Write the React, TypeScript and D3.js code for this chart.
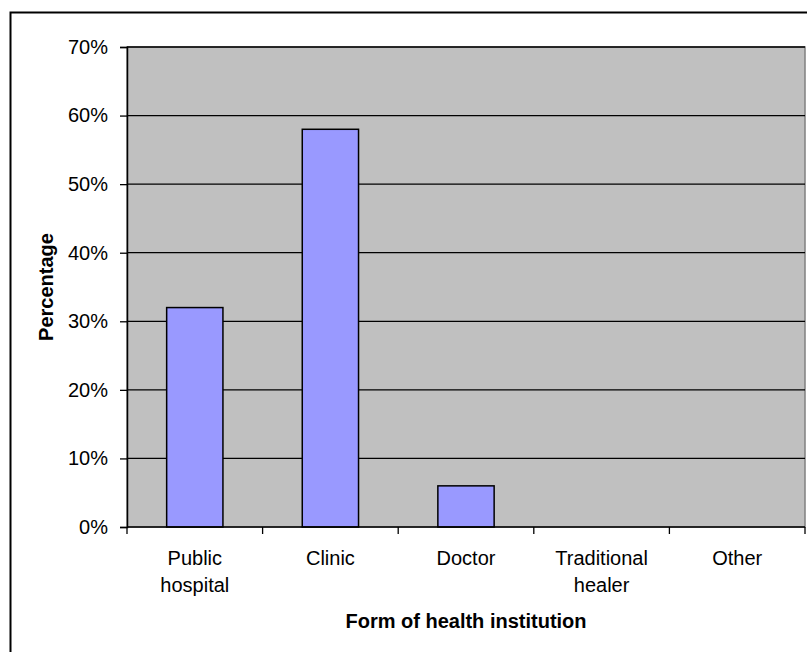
import React, { useEffect, useRef } from 'react';
import * as d3 from 'd3';

const categories: string[][] = [
  ['Public', 'hospital'],
  ['Clinic'],
  ['Doctor'],
  ['Traditional', 'healer'],
  ['Other'],
];
const values: number[] = [0.32, 0.58, 0.06, 0, 0];
const yTicks: number[] = [0, 0.1, 0.2, 0.3, 0.4, 0.5, 0.6, 0.7];

const FONT = 'Arial, "Liberation Sans", sans-serif';

const App: React.FC = () => {
  const svgRef = useRef<SVGSVGElement>(null);

  useEffect(() => {
    if (!svgRef.current) return;
    const width = 807;
    const height = 652;
    const margin = { top: 47, right: 2, bottom: 125, left: 127 };
    const innerWidth = width - margin.left - margin.right;
    const innerHeight = height - margin.top - margin.bottom;

    const svg = d3.select(svgRef.current);
    svg.selectAll('*').remove();
    svg.attr('width', width).attr('height', height);

    // outer chart border (runs off the right and bottom edges)
    svg.append('rect')
      .attr('x', 10.5).attr('y', 12.5)
      .attr('width', 900).attr('height', 700)
      .attr('fill', '#fff').attr('stroke', '#000').attr('stroke-width', 2);

    const g = svg.append('g').attr('transform', `translate(${margin.left},${margin.top})`);

    const keys = categories.map(c => c.join(' '));
    const xScale = d3.scaleBand().domain(keys).range([0, innerWidth]).padding(0);
    const yScale = d3.scaleLinear().domain([0, 0.7]).range([innerHeight, 0]);

    // plot area
    g.append('rect')
      .attr('width', innerWidth).attr('height', innerHeight)
      .attr('fill', '#c0c0c0').attr('stroke', '#808080').attr('stroke-width', 1.5);

    // gridlines
    g.selectAll('.grid')
      .data(yTicks.slice(1))
      .enter()
      .append('line')
      .attr('x1', 0).attr('x2', innerWidth)
      .attr('y1', d => yScale(d)).attr('y2', d => yScale(d))
      .attr('stroke', '#000').attr('stroke-width', 1.3);

    // bars
    const barW = xScale.bandwidth() * 0.415;
    g.selectAll('.bar')
      .data(values.map((v, i) => ({ v, k: keys[i] })).filter(d => d.v > 0))
      .enter()
      .append('rect')
      .attr('class', 'bar')
      .attr('x', d => (xScale(d.k) || 0) + xScale.bandwidth() / 2 - barW / 2)
      .attr('y', d => yScale(d.v))
      .attr('width', barW)
      .attr('height', d => innerHeight - yScale(d.v))
      .attr('fill', '#9999ff').attr('stroke', '#000').attr('stroke-width', 1.5);

    // y axis
    const yAxis = g.append('g')
      .call(d3.axisLeft(yScale).tickValues(yTicks).tickFormat(d3.format('.0%')).tickSize(7).tickPadding(12));
    yAxis.select('.domain').attr('stroke', '#000').attr('stroke-width', 1.5);
    yAxis.selectAll('.tick line').attr('stroke', '#000').attr('stroke-width', 1.3);
    yAxis.selectAll('.tick text')
      .attr('fill', '#000')
      .style('font-family', FONT)
      .style('font-size', '20px');

    // x axis
    const xAxis = g.append('g').attr('transform', `translate(0,${innerHeight})`);
    xAxis.append('line').attr('x1', 0).attr('x2', innerWidth)
      .attr('stroke', '#000').attr('stroke-width', 1.5);
    xAxis.selectAll('.xtick')
      .data(d3.range(keys.length + 1))
      .enter()
      .append('line')
      .attr('x1', i => xScale.step() * i).attr('x2', i => xScale.step() * i)
      .attr('y1', 0).attr('y2', 7)
      .attr('stroke', '#000').attr('stroke-width', 1.3);

    const labels = xAxis.selectAll('.xlabel')
      .data(categories)
      .enter()
      .append('text')
      .attr('text-anchor', 'middle')
      .attr('fill', '#000')
      .style('font-family', FONT)
      .style('font-size', '20px')
      .attr('transform', (d, i) => `translate(${(xScale(keys[i]) || 0) + xScale.bandwidth() / 2},38)`);
    labels.selectAll('tspan')
      .data(d => d)
      .enter()
      .append('tspan')
      .attr('x', 0)
      .attr('dy', (d, i) => (i === 0 ? 0 : 26.5))
      .text(d => d);

    // axis titles
    svg.append('text')
      .attr('x', margin.left + innerWidth / 2)
      .attr('y', 628)
      .attr('text-anchor', 'middle')
      .style('font-family', FONT)
      .style('font-size', '20px')
      .style('font-weight', 'bold')
      .text('Form of health institution');

    svg.append('text')
      .attr('transform', `translate(53,${margin.top + innerHeight / 2}) rotate(-90)`)
      .attr('text-anchor', 'middle')
      .style('font-family', FONT)
      .style('font-size', '20px')
      .style('font-weight', 'bold')
      .text('Percentage');
  }, []);

  return (
    <svg ref={svgRef} style={{ position: 'absolute', left: 0, top: 0, display: 'block' }}></svg>
  );
};

export default App;
